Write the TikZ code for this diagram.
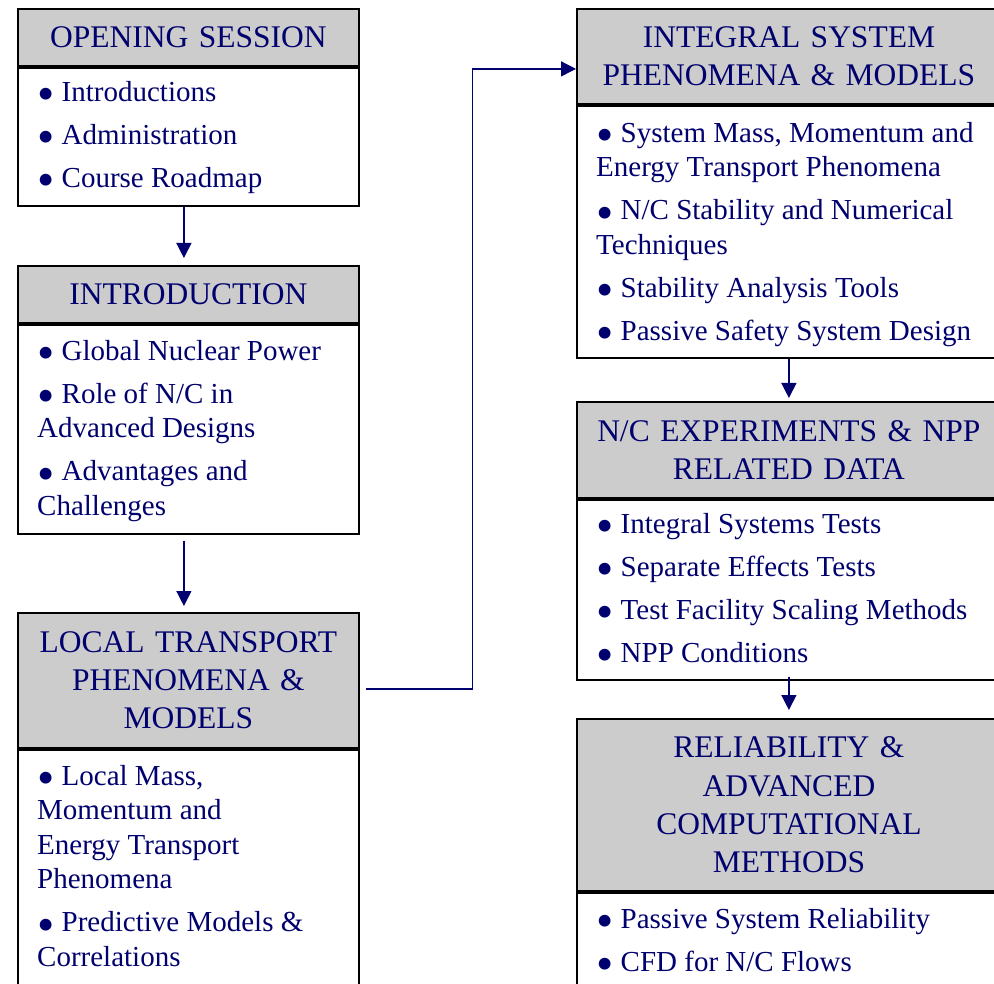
\documentclass[tikz,border=0pt]{standalone}
\usepackage{fontspec}
\setmainfont{Liberation Serif}
\usetikzlibrary{arrows.meta}
\definecolor{navy}{RGB}{0,0,110}
\definecolor{headgray}{RGB}{204,204,204}
\newcommand{\itembullet}{\makebox[24.5pt][l]{\raisebox{-9.5pt}[0pt][0pt]{\scalebox{1.7}{\textbullet}}}}
\tikzset{
    headbox/.style={
        draw,
        line width=1.8pt,
        fill=headgray,
        inner sep=0pt,
        align=center,
        text=navy,
        font=\fontsize{31.5}{38.3}\selectfont
    },
    bodybox/.style={draw, line width=1.8pt, fill=white, inner sep=0pt},
    itemlist/.style={
        anchor=north west,
        inner sep=0pt,
        align=left,
        text=navy,
        font=\fontsize{29}{34.5}\selectfont
    },
    link/.style={draw=navy, line width=1.3pt, -{Triangle[length=15pt,width=15pt]}},
    every edge/.style={link}
}

\begin{document}
\begin{tikzpicture}[x=1pt,y=-1pt]
	\useasboundingbox (0,0) rectangle (994,984);
	\clip (0,0) rectangle (994,984);
	% left column
	\node[headbox, anchor=north west, text width=341pt, minimum height=57pt] (h1) at (17,8) {OPENING SESSION};
	\node[bodybox, anchor=north, minimum width=341pt, minimum height=138pt] (b1) at (h1.south) {};
	\node[itemlist] (l1) at (37,76.85) {\strut\itembullet Introductions\\[8.5pt]
		\itembullet Administration\\[8.5pt]
		\itembullet Course Roadmap};
	\node[headbox, anchor=north west, text width=341pt, minimum height=57pt] (h2) at (17,265) {INTRODUCTION};
	\node[bodybox, anchor=north, minimum width=341pt, minimum height=209pt] (b2) at (h2.south) {};
	\node[itemlist] (l2) at (37,335.85) {\strut\itembullet Global Nuclear Power\\[8.5pt]
		\itembullet Role of N/C in\\
		Advanced Designs\\[8.5pt]
		\itembullet Advantages and\\
		Challenges};
	\node[headbox, anchor=north west, text width=341pt, minimum height=135pt] (h3) at (17,612) {LOCAL TRANSPORT\\ PHENOMENA \&\\ MODELS};
	\node[bodybox, anchor=north, minimum width=341pt, minimum height=237pt] (b3) at (h3.south) {};
	\node[itemlist] (l3) at (37,760.85) {\strut\itembullet Local Mass,\\
		Momentum and\\
		Energy Transport\\
		Phenomena\\[8.5pt]
		\itembullet Predictive Models \&\\
		Correlations};
	% right column
	\node[headbox, anchor=north west, text width=424pt, minimum height=95pt] (h4) at (576,8) {INTEGRAL SYSTEM\\ PHENOMENA \& MODELS};
	\node[bodybox, anchor=north, minimum width=424pt, minimum height=252pt] (b4) at (h4.south) {};
	\node[itemlist] (l4) at (596,117.85) {\strut\itembullet System Mass, Momentum and\\
		Energy Transport Phenomena\\[8.5pt]
		\itembullet N/C Stability and Numerical\\
		Techniques\\[8.5pt]
		\itembullet Stability Analysis Tools\\[8.5pt]
		\itembullet Passive Safety System Design};
	\node[headbox, anchor=north west, text width=424pt, minimum height=96pt] (h5) at (576,401) {N/C EXPERIMENTS \& NPP\\ RELATED DATA};
	\node[bodybox, anchor=north, minimum width=424pt, minimum height=180pt] (b5) at (h5.south) {};
	\node[itemlist] (l5) at (596,508.85) {\strut\itembullet Integral Systems Tests\\[8.5pt]
		\itembullet Separate Effects Tests\\[8.5pt]
		\itembullet Test Facility Scaling Methods\\[8.5pt]
		\itembullet NPP Conditions};
	\node[headbox, anchor=north west, text width=424pt, minimum height=172pt] (h6) at (576,718) {RELIABILITY \&\\ ADVANCED\\ COMPUTATIONAL\\ METHODS};
	\node[bodybox, anchor=north, minimum width=424pt, minimum height=150pt] (b6) at (h6.south) {};
	\node[itemlist] (l6) at (596,903.85) {\strut\itembullet Passive System Reliability\\[8.5pt]
		\itembullet CFD for N/C Flows};
	% flow between the boxes
	\draw
	([xshift=-4.5pt]b1.south) edge[shorten >=7pt] ([xshift=-4.5pt]h2.north)
	([xshift=-4.5pt]b2.south) edge[shorten <=6pt, shorten >=6pt] ([xshift=-4.5pt]h3.north)
	(b4.south) edge[shorten >=3pt] (h5.north)
	(b5.south) edge[shorten <=-4pt, shorten >=8pt] (h6.north);
	\draw[link] ([xshift=6pt,yshift=-8.5pt]h3.east) -- ++(107,0) |- ([yshift=-12.5pt]h4.west);
\end{tikzpicture}
\end{document}
